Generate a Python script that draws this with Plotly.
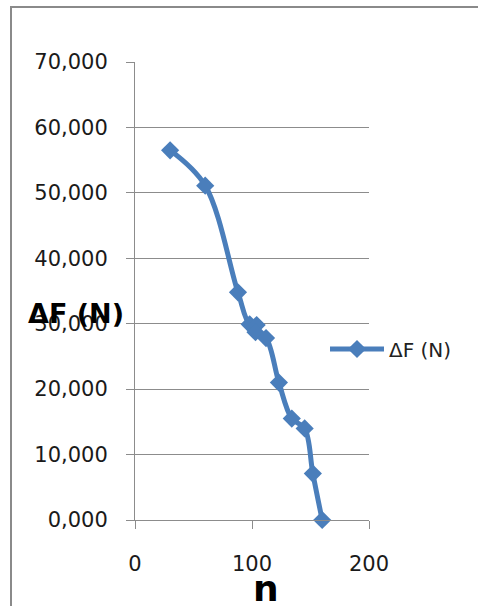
import plotly.graph_objects as go

n_values = [30, 60, 88, 98, 104, 103, 112, 123, 134, 145, 152, 160]
dF_values = [56.5, 51.1, 34.8, 29.9, 29.8, 28.7, 27.8, 21.0, 15.5, 14.0, 7.1, 0.0]
series_name = "ΔF (N)"
x_title = "n"
y_title = "ΔF (N)"
y_ticks = [0, 10, 20, 30, 40, 50, 60, 70]
x_ticks = [0, 100, 200]

W, H = 478, 606
L, R, T, B = 135, 369, 62, 520
pw, ph = R - L, B - T

def px(x):
    return (x - L) / pw

def py(y):
    return (B - y) / ph

blue = "#4A7EBB"
grid = "#8C8C8C"
font_family = "DejaVu Sans"

fig = go.Figure()
fig.add_trace(go.Scatter(
    x=n_values, y=dF_values, name=series_name,
    mode="lines+markers",
    line=dict(color=blue, width=5, shape="spline", smoothing=1.0),
    marker=dict(symbol="diamond", size=14, color=blue),
    cliponaxis=False,
))

fig.update_layout(
    width=W, height=H,
    margin=dict(l=L, r=W - R, t=T, b=H - B),
    paper_bgcolor="white", plot_bgcolor="white",
    separators=", ",
    showlegend=True,
    legend=dict(x=px(325), y=py(349), xanchor="left", yanchor="middle",
                font=dict(family=font_family, size=20, color="#222"),
                itemwidth=54, bgcolor="rgba(0,0,0,0)"),
    xaxis=dict(range=[0, 200], tickvals=x_ticks, showgrid=False,
               showline=True, linecolor=grid, linewidth=1,
               ticks="outside", ticklen=8, tickcolor=grid,
               tickfont=dict(family=font_family, size=21, color="#1a1a1a"),
               ticklabelstandoff=17, zeroline=False, fixedrange=True),
    yaxis=dict(range=[0, 70], tickvals=y_ticks, tickformat=".3f",
               showgrid=True, gridcolor=grid, gridwidth=1,
               showline=True, linecolor=grid, linewidth=1,
               ticks="outside", ticklen=8, tickcolor=grid,
               tickfont=dict(family=font_family, size=21, color="#1a1a1a"),
               ticklabelstandoff=14, zeroline=False, fixedrange=True),
    annotations=[
        dict(text="<b>" + y_title + "</b>", xref="paper", yref="paper",
             x=px(76), y=py(313), xanchor="center", yanchor="middle",
             showarrow=False, font=dict(family=font_family, size=27, color="black")),
        dict(text="<b>" + x_title + "</b>", xref="paper", yref="paper",
             x=px(266), y=py(588), xanchor="center", yanchor="middle",
             showarrow=False, font=dict(family=font_family, size=36, color="black")),
    ],
    shapes=[
        dict(type="rect", xref="paper", yref="paper",
             x0=px(11), x1=px(W + 20), y0=py(H + 20), y1=py(7),
             line=dict(color="#8A8A8A", width=2), fillcolor="rgba(0,0,0,0)", layer="below"),
    ],
)

fig.write_html("out.html", config={"displayModeBar": False},
               post_script="document.body.style.margin='0';")
